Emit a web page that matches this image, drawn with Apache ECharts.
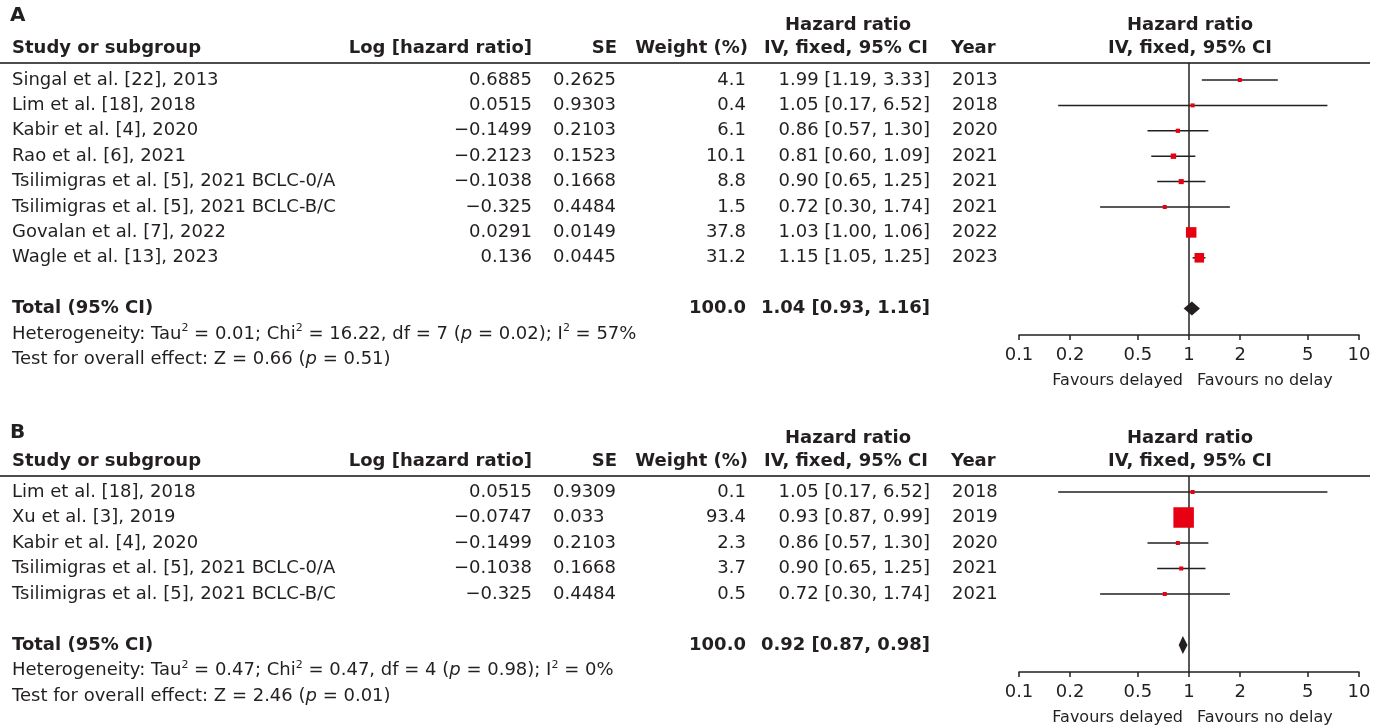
<!DOCTYPE html>
<html>
<head>
<meta charset="utf-8">
<title>Forest plot</title>
<script src="https://cdn.jsdelivr.net/npm/echarts@6/dist/echarts.min.js"></script>
<style>
html, body { margin: 0; padding: 0; background: #fff; }
#chart { width: 1383px; height: 727px; }
</style>
</head>
<body>
<div id="chart"></div>
<script>
// ---- panel A ----
var namesA = ['Singal et al. [22], 2013', 'Lim et al. [18], 2018', 'Kabir et al. [4], 2020', 'Rao et al. [6], 2021',
    'Tsilimigras et al. [5], 2021 BCLC-0/A', 'Tsilimigras et al. [5], 2021 BCLC-B/C', 'Govalan et al. [7], 2022', 'Wagle et al. [13], 2023'];
var logHrA = [0.6885, 0.0515, -0.1499, -0.2123, -0.1038, -0.325, 0.0291, 0.136];
var seA = [0.2625, 0.9303, 0.2103, 0.1523, 0.1668, 0.4484, 0.0149, 0.0445];
var weightA = [4.1, 0.4, 6.1, 10.1, 8.8, 1.5, 37.8, 31.2];
var hrA = [1.99, 1.05, 0.86, 0.81, 0.90, 0.72, 1.03, 1.15];
var lowerA = [1.19, 0.17, 0.57, 0.60, 0.65, 0.30, 1.00, 1.05];
var upperA = [3.33, 6.52, 1.30, 1.09, 1.25, 1.74, 1.06, 1.25];
var yearA = [2013, 2018, 2020, 2021, 2021, 2021, 2022, 2023];
var totalA = [1.04, 0.93, 1.16];   // hr, lower, upper
var hetA = 'Heterogeneity: Tau{sup|2} = 0.01; Chi{sup|2} = 16.22, df = 7 ({it|p} = 0.02); I{sup|2} = 57%';
var testA = 'Test for overall effect: Z = 0.66 ({it|p} = 0.51)';

// ---- panel B ----
var namesB = ['Lim et al. [18], 2018', 'Xu et al. [3], 2019', 'Kabir et al. [4], 2020',
    'Tsilimigras et al. [5], 2021 BCLC-0/A', 'Tsilimigras et al. [5], 2021 BCLC-B/C'];
var logHrB = [0.0515, -0.0747, -0.1499, -0.1038, -0.325];
var seB = [0.9309, 0.033, 0.2103, 0.1668, 0.4484];
var weightB = [0.1, 93.4, 2.3, 3.7, 0.5];
var hrB = [1.05, 0.93, 0.86, 0.90, 0.72];
var lowerB = [0.17, 0.87, 0.57, 0.65, 0.30];
var upperB = [6.52, 0.99, 1.30, 1.25, 1.74];
var yearB = [2018, 2019, 2020, 2021, 2021];
var totalB = [0.92, 0.87, 0.98];
var hetB = 'Heterogeneity: Tau{sup|2} = 0.47; Chi{sup|2} = 0.47, df = 4 ({it|p} = 0.98); I{sup|2} = 0%';
var testB = 'Test for overall effect: Z = 2.46 ({it|p} = 0.01)';

// ---- axis ----
var tickValues = [0.1, 0.2, 0.5, 1, 2, 5, 10];
var tickLabels = ['0.1', '0.2', '0.5', '1', '2', '5', '10'];

var FONT = 'DejaVu Sans';
var INK = '#231f20';
var RED = '#e60012';
var RULE = '#4d4d4f';

var RICH = {
    sup: { fontSize: 11, fontFamily: FONT, fill: INK, verticalAlign: 'top', lineHeight: 22 },
    it: { fontSize: 18, fontFamily: FONT, fill: INK, fontStyle: 'italic', lineHeight: 22 }
};

var panels = [
    { letter: 'A', names: namesA, logHr: logHrA, se: seA, weight: weightA, hr: hrA, lower: lowerA, upper: upperA,
      year: yearA, total: totalA, het: hetA, test: testA,
      row0: 80, pitch: 25.4, letterY: 16, head1Y: 25, head2Y: 48, ruleY: 63, axisY: 335,
      top: 0, bottom: 400, totalRow: 9, boxScale: 1.71, diamondHalf: 7 },
    { letter: 'B', names: namesB, logHr: logHrB, se: seB, weight: weightB, hr: hrB, lower: lowerB, upper: upperB,
      year: yearB, total: totalB, het: hetB, test: testB,
      row0: 492, pitch: 25.5, letterY: 433, head1Y: 438, head2Y: 461, ruleY: 476, axisY: 672,
      top: 405, bottom: 727, totalRow: 6, boxScale: 2.12, diamondHalf: 9 }
];

function lg(v) { return Math.log10(v); }
function minus(v) { return String(v).replace('-', '\u2212'); }
function ci(h, l, u) { return h.toFixed(2) + ' [' + l.toFixed(2) + ', ' + u.toFixed(2) + ']'; }

var tickLogs = tickValues.map(lg);
function tickFmt(v) {
    for (var i = 0; i < tickLogs.length; i++) {
        if (Math.abs(tickLogs[i] - v) < 1e-6) return tickLabels[i];
    }
    return '';
}

function textSeries(idx, items) {
    return {
        type: 'custom', xAxisIndex: idx, yAxisIndex: idx, silent: true, z: 5,
        data: items.map(function (it) { return [it.x, it.row]; }),
        renderItem: function (params, api) {
            var it = items[params.dataIndex];
            var p = api.coord([api.value(0), api.value(1)]);
            return {
                type: 'text', x: p[0], y: p[1],
                style: {
                    text: it.text, fill: INK, fontFamily: FONT, fontSize: it.size || 18,
                    fontWeight: it.bold ? 'bold' : 'normal', lineHeight: 22,
                    align: it.align || 'left', verticalAlign: 'middle', rich: RICH
                }
            };
        }
    };
}

var grids = [], xAxes = [], yAxes = [], series = [], graphics = [];

panels.forEach(function (P) {
    var tIdx = grids.length, fIdx = tIdx + 1;
    var toRow = function (px) { return (px - P.row0) / P.pitch; };

    // table grid: spans the whole panel, x in page pixels
    grids.push({ left: 0, right: 0, top: P.top, height: P.bottom - P.top, outerBoundsMode: 'none' });
    xAxes.push({ type: 'value', gridIndex: tIdx, min: 0, max: 1383, show: false });
    yAxes.push({ type: 'value', gridIndex: tIdx, inverse: true, show: false,
        min: toRow(P.top), max: toRow(P.bottom) });

    // forest grid
    grids.push({ left: 1019, right: 24, top: P.ruleY, height: P.axisY - P.ruleY, outerBoundsMode: 'none' });
    xAxes.push({
        type: 'value', gridIndex: fIdx, min: -1, max: 1,
        axisLine: { show: true, onZero: false, lineStyle: { color: INK, width: 1.5 } },
        axisTick: { show: true, customValues: tickLogs, length: 5, lineStyle: { color: INK, width: 1.5 } },
        axisLabel: { customValues: tickLogs, formatter: tickFmt, fontSize: 18, fontFamily: FONT, color: INK,
            margin: 11, showMinLabel: true, showMaxLabel: true },
        splitLine: { show: false }
    });
    yAxes.push({ type: 'value', gridIndex: fIdx, inverse: true, show: false,
        min: toRow(P.ruleY), max: toRow(P.axisY) });

    // table text
    var items = [];
    items.push({ x: 10, row: toRow(P.letterY), text: P.letter, bold: true, size: 20 });
    items.push({ x: 848, row: toRow(P.head1Y), text: 'Hazard ratio', bold: true, align: 'center' });
    items.push({ x: 1190, row: toRow(P.head1Y), text: 'Hazard ratio', bold: true, align: 'center' });
    var h2 = toRow(P.head2Y);
    items.push({ x: 12, row: h2, text: 'Study or subgroup', bold: true });
    items.push({ x: 532, row: h2, text: 'Log [hazard ratio]', bold: true, align: 'right' });
    items.push({ x: 617, row: h2, text: 'SE', bold: true, align: 'right' });
    items.push({ x: 748, row: h2, text: 'Weight (%)', bold: true, align: 'right' });
    items.push({ x: 846, row: h2, text: 'IV, fixed, 95% CI', bold: true, align: 'center' });
    items.push({ x: 951, row: h2, text: 'Year', bold: true });
    items.push({ x: 1190, row: h2, text: 'IV, fixed, 95% CI', bold: true, align: 'center' });

    P.names.forEach(function (n, i) {
        items.push({ x: 12, row: i, text: n });
        items.push({ x: 532, row: i, text: minus(P.logHr[i]), align: 'right' });
        items.push({ x: 553, row: i, text: String(P.se[i]) });
        items.push({ x: 746, row: i, text: P.weight[i].toFixed(1), align: 'right' });
        items.push({ x: 930, row: i, text: ci(P.hr[i], P.lower[i], P.upper[i]), align: 'right' });
        items.push({ x: 952, row: i, text: String(P.year[i]) });
    });
    var tr = P.totalRow;
    var wsum = P.weight.reduce(function (a, b) { return a + b; }, 0);
    items.push({ x: 12, row: tr, text: 'Total (95% CI)', bold: true });
    items.push({ x: 746, row: tr, text: wsum.toFixed(1), bold: true, align: 'right' });
    items.push({ x: 930, row: tr, text: ci(P.total[0], P.total[1], P.total[2]), bold: true, align: 'right' });
    items.push({ x: 12, row: tr + 1, text: P.het });
    items.push({ x: 12, row: tr + 2, text: P.test });
    var fr = toRow(P.axisY + 46);
    items.push({ x: 1183, row: fr, text: 'Favours delayed', size: 16, align: 'right' });
    items.push({ x: 1197, row: fr, text: 'Favours no delay', size: 16 });
    series.push(textSeries(tIdx, items));

    // reference line at HR = 1
    series.push({
        type: 'custom', xAxisIndex: fIdx, yAxisIndex: fIdx, silent: true, z: 2,
        data: [[0, 0]],
        renderItem: function (params, api) {
            var cs = params.coordSys;
            var p = api.coord([api.value(0), api.value(1)]);
            return { type: 'line', shape: { x1: p[0], y1: cs.y, x2: p[0], y2: cs.y + cs.height },
                style: { stroke: INK, lineWidth: 1.5 } };
        }
    });

    // confidence intervals
    series.push({
        type: 'custom', xAxisIndex: fIdx, yAxisIndex: fIdx, silent: true, z: 3,
        encode: { x: [0, 1], y: 2 },
        data: P.lower.map(function (l, i) { return [lg(l), lg(P.upper[i]), i]; }),
        renderItem: function (params, api) {
            var a = api.coord([api.value(0), api.value(2)]);
            var b = api.coord([api.value(1), api.value(2)]);
            return { type: 'line', shape: { x1: a[0], y1: a[1], x2: b[0], y2: b[1] },
                style: { stroke: INK, lineWidth: 1.5 } };
        }
    });

    // study estimates
    var k = P.boxScale;
    series.push({
        type: 'scatter', xAxisIndex: fIdx, yAxisIndex: fIdx, silent: true, z: 4,
        symbol: 'rect',
        symbolSize: function (v) { return Math.max(4, k * Math.sqrt(v[2])); },
        itemStyle: { color: RED, opacity: 1 },
        data: P.hr.map(function (h, i) { return [lg(h), i, P.weight[i]]; })
    });

    // pooled estimate diamond
    var half = P.diamondHalf;
    series.push({
        type: 'custom', xAxisIndex: fIdx, yAxisIndex: fIdx, silent: true, z: 4,
        encode: { x: [0, 1, 2], y: 3 },
        data: [[lg(P.total[0]), lg(P.total[1]), lg(P.total[2]), P.totalRow]],
        renderItem: function (params, api) {
            var c = api.coord([api.value(0), api.value(3)]);
            var l = api.coord([api.value(1), api.value(3)]);
            var r = api.coord([api.value(2), api.value(3)]);
            return { type: 'polygon',
                shape: { points: [[l[0], c[1]], [c[0], c[1] - half], [r[0], c[1]], [c[0], c[1] + half]] },
                style: { fill: INK } };
        }
    });

    graphics.push({ type: 'line', shape: { x1: 0, y1: P.ruleY, x2: 1370, y2: P.ruleY },
        style: { stroke: RULE, lineWidth: 2 }, z: 1 });
});

var myChart = echarts.init(document.getElementById('chart'));
var option = {
    backgroundColor: '#fff',
    animation: false,
    grid: grids,
    xAxis: xAxes,
    yAxis: yAxes,
    graphic: graphics,
    series: series
};
myChart.setOption(option, true);

window.onresize = function () { myChart.resize(); };
</script>
</body>
</html>
